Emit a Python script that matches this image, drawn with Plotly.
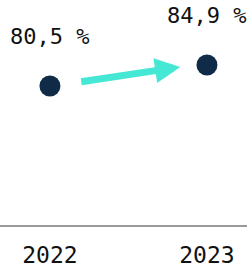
import plotly.graph_objects as go

years = ["2022", "2023"]
values = [80.5, 84.9]
labels = ["80,5 %", "84,9 %"]

navy = "#0f2b48"
teal = "#45e8d4"
font_family = "DejaVu Sans Mono"

fig = go.Figure()
fig.add_trace(go.Scatter(
    x=[0, 1], y=values, mode="markers",
    marker=dict(size=21, color=navy),
    hoverinfo="skip", showlegend=False,
))

for i, (v, lab) in enumerate(zip(values, labels)):
    fig.add_annotation(x=i, y=v, text=lab, showarrow=False, yshift=49,
                       font=dict(family=font_family, size=22, color="#111111"))

# arrow from first to second point
x0, x1 = 0.19, 0.83
y0 = values[0] + 0.85
y1 = values[1] - 0.4
fig.add_annotation(x=x1, y=y1, ax=x0, ay=y0, xref="x", yref="y", axref="x", ayref="y",
                   text="", showarrow=True, arrowhead=2, arrowsize=0.72,
                   arrowwidth=7, arrowcolor=teal, standoff=0, startstandoff=0)

fig.update_xaxes(
    range=[-0.318, 1.255], tickmode="array", tickvals=[0, 1], ticktext=years,
    showgrid=False, zeroline=False, showline=True, linecolor="#999999", linewidth=2,
    ticks="outside", ticklen=0, ticklabelstandoff=8, automargin=False,
    tickfont=dict(family=font_family, size=23, color="#111111"),
)
fig.update_yaxes(range=[51.4, 98.5], visible=False, automargin=False)
fig.update_layout(
    width=247, height=268, margin=dict(l=0, r=0, t=0, b=43, autoexpand=False),
    plot_bgcolor="white", paper_bgcolor="white",
)
fig.write_html("out.html", config={"displayModeBar": False, "staticPlot": True},
               post_script="document.body.style.margin='0';document.body.style.overflow='hidden';")
